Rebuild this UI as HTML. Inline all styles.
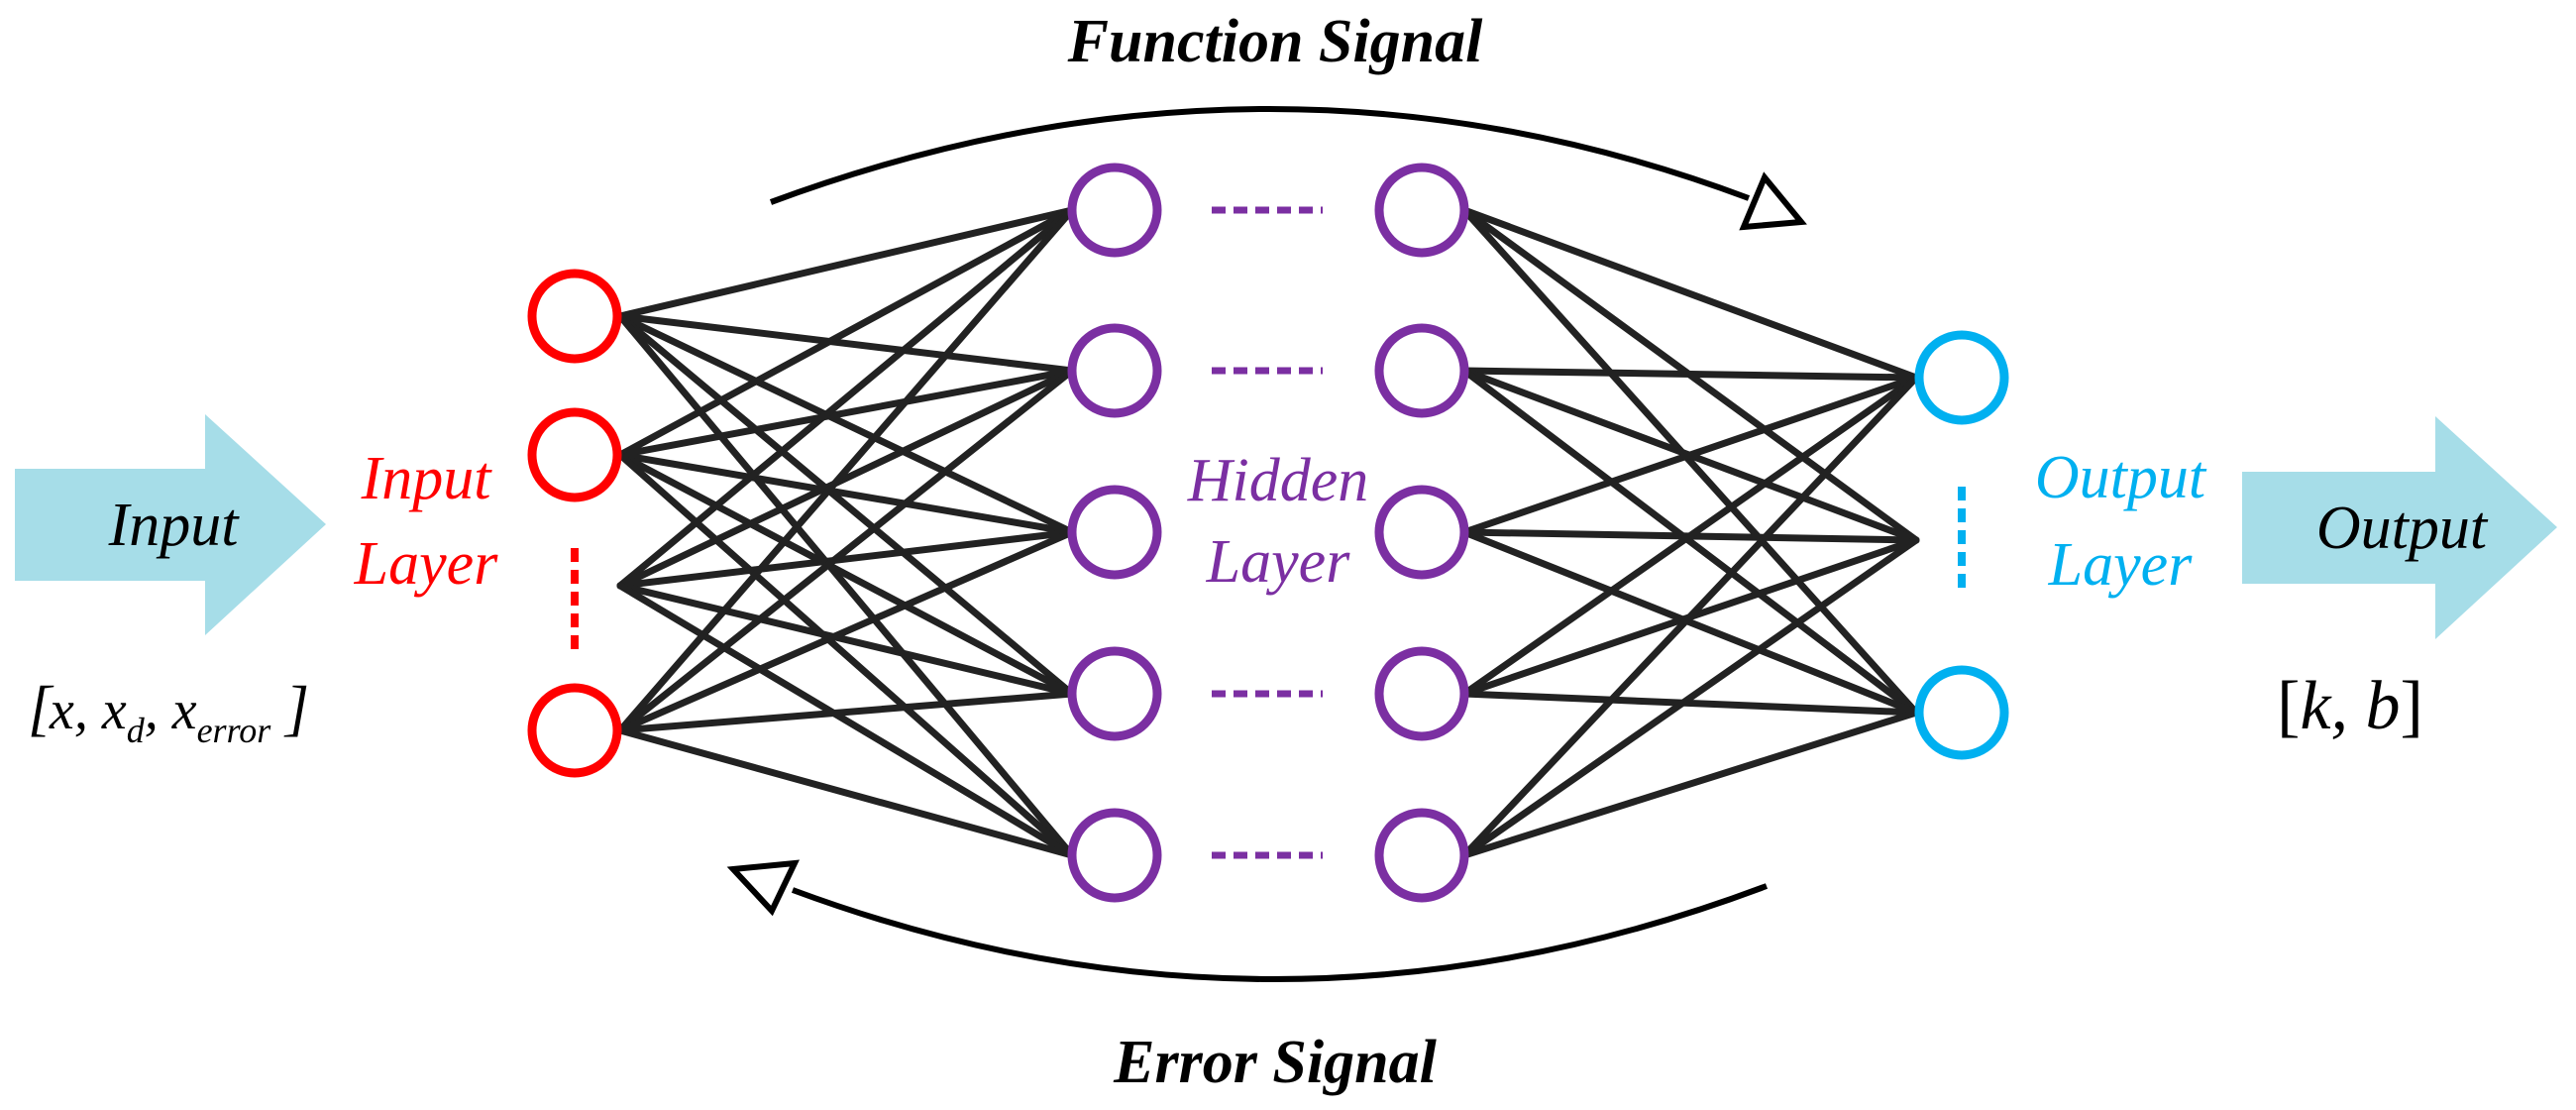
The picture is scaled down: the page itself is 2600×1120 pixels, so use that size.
<!DOCTYPE html>
<html><head><meta charset="utf-8"><style>
html,body{margin:0;padding:0;background:#fff;}
svg{display:block;}
text{font-family:"Liberation Serif",serif;font-style:italic;}
</style></head><body>
<svg width="2600" height="1120" viewBox="0 0 2600 1120" xmlns="http://www.w3.org/2000/svg">
<!-- arrows -->
<polygon points="15,473 207,473 207,418 329,529 207,641 207,586 15,586" fill="#a6dde8"/>
<polygon points="2263,476 2458,476 2458,420 2581,532 2458,645 2458,589 2263,589" fill="#a6dde8"/>
<!-- edges -->
<g stroke="#222" stroke-width="7" stroke-linecap="round">
<line x1="626" y1="319" x2="1082" y2="212"/><line x1="626" y1="319" x2="1082" y2="374"/><line x1="626" y1="319" x2="1082" y2="537"/><line x1="626" y1="319" x2="1082" y2="700"/><line x1="626" y1="319" x2="1082" y2="863"/>
<line x1="626" y1="459" x2="1082" y2="212"/><line x1="626" y1="459" x2="1082" y2="374"/><line x1="626" y1="459" x2="1082" y2="537"/><line x1="626" y1="459" x2="1082" y2="700"/><line x1="626" y1="459" x2="1082" y2="863"/>
<line x1="626" y1="591" x2="1082" y2="212"/><line x1="626" y1="591" x2="1082" y2="374"/><line x1="626" y1="591" x2="1082" y2="537"/><line x1="626" y1="591" x2="1082" y2="700"/><line x1="626" y1="591" x2="1082" y2="863"/>
<line x1="626" y1="737" x2="1082" y2="212"/><line x1="626" y1="737" x2="1082" y2="374"/><line x1="626" y1="737" x2="1082" y2="537"/><line x1="626" y1="737" x2="1082" y2="700"/><line x1="626" y1="737" x2="1082" y2="863"/>
<line x1="1478" y1="212" x2="1934" y2="381"/><line x1="1478" y1="212" x2="1934" y2="545"/><line x1="1478" y1="212" x2="1934" y2="719"/>
<line x1="1478" y1="374" x2="1934" y2="381"/><line x1="1478" y1="374" x2="1934" y2="545"/><line x1="1478" y1="374" x2="1934" y2="719"/>
<line x1="1478" y1="537" x2="1934" y2="381"/><line x1="1478" y1="537" x2="1934" y2="545"/><line x1="1478" y1="537" x2="1934" y2="719"/>
<line x1="1478" y1="700" x2="1934" y2="381"/><line x1="1478" y1="700" x2="1934" y2="545"/><line x1="1478" y1="700" x2="1934" y2="719"/>
<line x1="1478" y1="863" x2="1934" y2="381"/><line x1="1478" y1="863" x2="1934" y2="545"/><line x1="1478" y1="863" x2="1934" y2="719"/>
</g>
<!-- nodes -->
<g fill="#fff" stroke-width="9">
<circle cx="580" cy="319" r="43" stroke="#ff0000"/><circle cx="580" cy="459" r="43" stroke="#ff0000"/><circle cx="580" cy="737" r="43" stroke="#ff0000"/>
<g stroke="#7b2fa2">
<circle cx="1125" cy="212" r="43"/><circle cx="1125" cy="374" r="43"/><circle cx="1125" cy="537" r="43"/><circle cx="1125" cy="700" r="43"/><circle cx="1125" cy="863" r="43"/>
<circle cx="1435" cy="212" r="43"/><circle cx="1435" cy="374" r="43"/><circle cx="1435" cy="537" r="43"/><circle cx="1435" cy="700" r="43"/><circle cx="1435" cy="863" r="43"/>
</g>
<circle cx="1980" cy="381" r="43" stroke="#00b0f0"/><circle cx="1980" cy="719" r="43" stroke="#00b0f0"/>
</g>
<!-- dashes -->
<line x1="580" y1="553" x2="580" y2="657" stroke="#ff0000" stroke-width="8" stroke-dasharray="14 8"/>
<line x1="1980" y1="491" x2="1980" y2="600" stroke="#00b0f0" stroke-width="8" stroke-dasharray="14 8"/>
<g stroke="#7b2fa2" stroke-width="7" stroke-dasharray="14 8">
<line x1="1223" y1="212" x2="1335" y2="212"/><line x1="1223" y1="374" x2="1335" y2="374"/><line x1="1223" y1="700" x2="1335" y2="700"/><line x1="1223" y1="863" x2="1335" y2="863"/>
</g>
<!-- signal arcs -->
<g fill="none" stroke="#000" stroke-width="6">
<path d="M778 204 Q1280 18 1765 200"/>
<path d="M1783 894 Q1290 1080 800 898"/>
</g>
<g fill="#fff" stroke="#000" stroke-width="6" stroke-linejoin="miter">
<polygon points="1760,229 1818,224 1781,179"/>
<polygon points="740,877 802,871 779,919"/>
</g>
<!-- text -->
<text x="1287" y="62" font-size="62" font-weight="bold" text-anchor="middle">Function Signal</text>
<text x="1287" y="1092" font-size="62" font-weight="bold" text-anchor="middle">Error Signal</text>
<text x="175" y="550" font-size="62" text-anchor="middle">Input</text>
<text x="2424" y="553" font-size="62" text-anchor="middle">Output</text>
<g fill="#ff0000" font-size="62" text-anchor="middle"><text x="430" y="503">Input</text><text x="430" y="589">Layer</text></g>
<g fill="#7b2fa2" font-size="62" text-anchor="middle"><text x="1290" y="505">Hidden</text><text x="1290" y="587">Layer</text></g>
<g fill="#00b0f0" font-size="62" text-anchor="middle"><text x="2140" y="502">Output</text><text x="2140" y="590">Layer</text></g>
<text x="28" y="735" font-size="62" font-style="normal">[</text>
<text x="50" y="735" font-size="56">x, x<tspan font-size="36" dy="14">d</tspan><tspan dy="-14">, x</tspan><tspan font-size="36" dy="14">error</tspan></text>
<text x="288" y="735" font-size="62" font-style="normal">]</text>
<text x="2372" y="735" font-size="70" text-anchor="middle"><tspan font-style="normal">[</tspan>k, b<tspan font-style="normal">]</tspan></text>
</svg>
</body></html>
